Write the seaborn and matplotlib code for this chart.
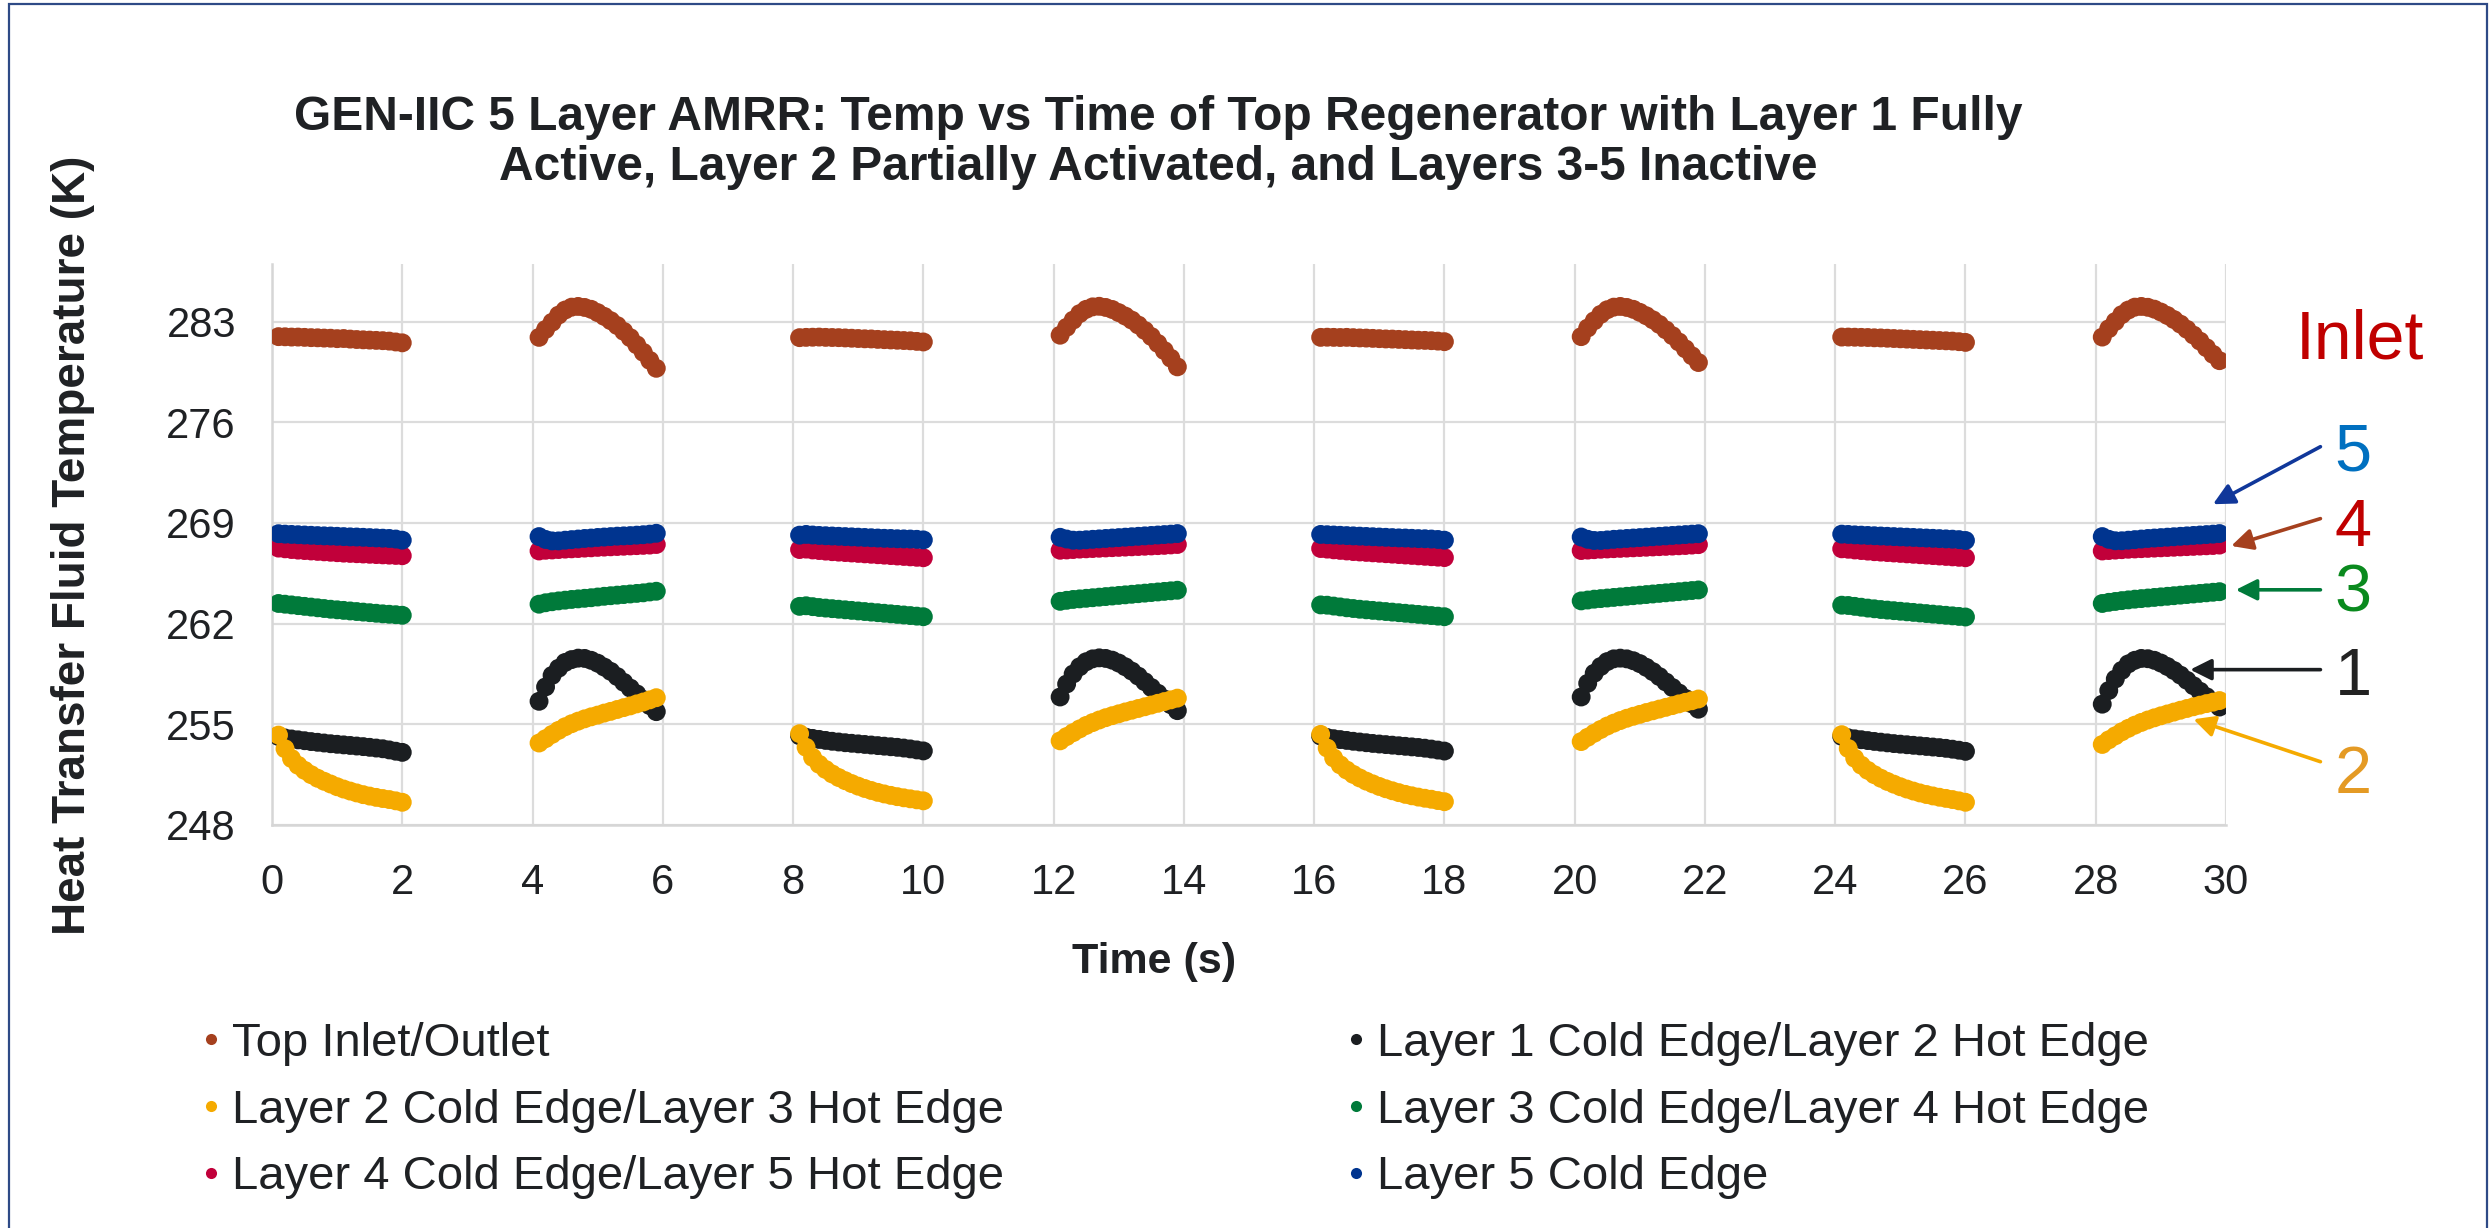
import matplotlib
matplotlib.use("Agg")
import matplotlib.pyplot as plt
import seaborn as sns
import pandas as pd
from matplotlib.lines import Line2D
from matplotlib.patches import Rectangle

# ---------------------------------------------------------------- data
# Each cycle: 2 s "A" half (flow one way), 2 s pause, 2 s "B" half, 2 s pause
CYCLE_STARTS = [0, 8, 16, 24]
HALF_B_OFFSET = 4
TIME_A = [0.1, 0.2, 0.3, 0.4, 0.5, 0.6, 0.7, 0.8, 0.9, 1.0,
          1.1, 1.2, 1.3, 1.4, 1.5, 1.6, 1.7, 1.8, 1.9, 2.0]
TIME_B = [0.1, 0.2, 0.3, 0.4, 0.5, 0.6, 0.7, 0.8, 0.9, 1.0,
          1.1, 1.2, 1.3, 1.4, 1.5, 1.6, 1.7, 1.8, 1.9]

LABELS = [
    "Top Inlet/Outlet",
    "Layer 1 Cold Edge/Layer 2 Hot Edge",
    "Layer 2 Cold Edge/Layer 3 Hot Edge",
    "Layer 3 Cold Edge/Layer 4 Hot Edge",
    "Layer 4 Cold Edge/Layer 5 Hot Edge",
    "Layer 5 Cold Edge",
]
COLORS = ["#A5401E", "#1B1E21", "#F5AA00", "#007A3A", "#C1003A", "#00348F"]

INLET_A = [
    [281.95, 281.94, 281.92, 281.92, 281.90, 281.88, 281.87, 281.85, 281.84, 281.81,
     281.82, 281.78, 281.75, 281.73, 281.71, 281.69, 281.67, 281.64, 281.58, 281.52],
    [281.88, 281.90, 281.91, 281.92, 281.90, 281.89, 281.88, 281.86, 281.84, 281.82,
     281.80, 281.79, 281.76, 281.74, 281.72, 281.70, 281.68, 281.66, 281.62, 281.58],
    [281.90, 281.91, 281.90, 281.89, 281.90, 281.88, 281.86, 281.85, 281.83, 281.81,
     281.79, 281.78, 281.76, 281.74, 281.72, 281.70, 281.69, 281.67, 281.64, 281.60],
    [281.92, 281.92, 281.91, 281.90, 281.89, 281.87, 281.86, 281.84, 281.82, 281.80,
     281.78, 281.76, 281.74, 281.72, 281.70, 281.68, 281.66, 281.64, 281.60, 281.55],
]
INLET_B = [
    [281.90, 282.45, 282.95, 283.45, 283.80, 284.00, 284.05, 283.98, 283.85, 283.62,
     283.36, 283.06, 282.72, 282.32, 281.88, 281.38, 280.86, 280.30, 279.75],
    [282.05, 282.60, 283.10, 283.55, 283.85, 284.02, 284.06, 283.98, 283.84, 283.62,
     283.38, 283.10, 282.76, 282.38, 281.96, 281.48, 280.98, 280.45, 279.85],
    [281.95, 282.55, 283.05, 283.50, 283.82, 284.00, 284.05, 283.98, 283.85, 283.64,
     283.40, 283.12, 282.80, 282.42, 282.02, 281.58, 281.10, 280.62, 280.15],
    [281.92, 282.50, 283.00, 283.48, 283.80, 284.00, 284.05, 283.99, 283.86, 283.66,
     283.42, 283.14, 282.82, 282.46, 282.06, 281.64, 281.18, 280.72, 280.28],
]

L1_A = [
    [254.15, 254.05, 253.98, 253.92, 253.86, 253.80, 253.75, 253.70, 253.65, 253.61,
     253.57, 253.53, 253.49, 253.45, 253.40, 253.35, 253.30, 253.22, 253.13, 253.05],
    [254.20, 254.10, 254.02, 253.95, 253.88, 253.82, 253.77, 253.72, 253.68, 253.64,
     253.60, 253.56, 253.52, 253.48, 253.44, 253.40, 253.35, 253.29, 253.22, 253.15],
    [254.18, 254.08, 254.00, 253.94, 253.88, 253.82, 253.77, 253.72, 253.67, 253.63,
     253.59, 253.55, 253.51, 253.47, 253.43, 253.39, 253.34, 253.28, 253.21, 253.14],
    [254.16, 254.06, 253.99, 253.93, 253.87, 253.81, 253.76, 253.71, 253.66, 253.62,
     253.58, 253.54, 253.50, 253.46, 253.42, 253.38, 253.33, 253.27, 253.20, 253.12],
]
L1_B = [
    [256.60, 257.60, 258.40, 258.90, 259.30, 259.50, 259.60, 259.58, 259.45, 259.25,
     258.98, 258.68, 258.32, 257.92, 257.52, 257.12, 256.72, 256.30, 255.88],
    [256.90, 257.80, 258.50, 259.00, 259.35, 259.55, 259.62, 259.58, 259.46, 259.26,
     259.00, 258.70, 258.35, 257.96, 257.56, 257.16, 256.76, 256.36, 255.95],
    [256.90, 257.85, 258.55, 259.02, 259.36, 259.55, 259.60, 259.55, 259.42, 259.22,
     258.96, 258.66, 258.32, 257.94, 257.56, 257.18, 256.80, 256.42, 256.05],
    [256.40, 257.35, 258.15, 258.75, 259.20, 259.45, 259.58, 259.56, 259.45, 259.26,
     259.02, 258.74, 258.42, 258.06, 257.68, 257.30, 256.92, 256.55, 256.20],
]

L2_A = [
    [254.25, 253.30, 252.62, 252.15, 251.80, 251.50, 251.25, 251.04, 250.85, 250.66,
     250.50, 250.36, 250.23, 250.11, 250.01, 249.92, 249.84, 249.77, 249.68, 249.58],
    [254.35, 253.40, 252.70, 252.22, 251.86, 251.55, 251.30, 251.08, 250.88, 250.70,
     250.54, 250.40, 250.27, 250.16, 250.06, 249.97, 249.89, 249.82, 249.75, 249.68],
    [254.30, 253.35, 252.66, 252.18, 251.82, 251.52, 251.27, 251.05, 250.86, 250.68,
     250.52, 250.38, 250.25, 250.13, 250.03, 249.94, 249.86, 249.79, 249.70, 249.62],
    [254.28, 253.32, 252.64, 252.16, 251.80, 251.50, 251.25, 251.03, 250.84, 250.66,
     250.50, 250.36, 250.23, 250.12, 250.02, 249.93, 249.85, 249.77, 249.68, 249.58],
]
L2_B = [
    [253.70, 254.00, 254.30, 254.58, 254.83, 255.04, 255.22, 255.38, 255.52, 255.64,
     255.78, 255.90, 256.03, 256.16, 256.28, 256.42, 256.55, 256.70, 256.85],
    [253.85, 254.15, 254.42, 254.68, 254.92, 255.12, 255.30, 255.46, 255.60, 255.73,
     255.86, 255.98, 256.10, 256.22, 256.34, 256.46, 256.58, 256.70, 256.82],
    [253.80, 254.10, 254.38, 254.64, 254.88, 255.08, 255.26, 255.42, 255.56, 255.69,
     255.82, 255.94, 256.06, 256.18, 256.30, 256.42, 256.53, 256.64, 256.76],
    [253.60, 253.92, 254.20, 254.48, 254.72, 254.94, 255.13, 255.30, 255.45, 255.59,
     255.72, 255.85, 255.98, 256.10, 256.22, 256.33, 256.44, 256.54, 256.65],
]

L3_A = [
    [263.40, 263.35, 263.30, 263.25, 263.20, 263.15, 263.10, 263.05, 263.00, 262.96,
     262.92, 262.88, 262.84, 262.80, 262.76, 262.72, 262.68, 262.65, 262.62, 262.58],
    [263.20, 263.24, 263.18, 263.12, 263.08, 263.04, 263.00, 262.96, 262.92, 262.88,
     262.84, 262.80, 262.76, 262.72, 262.68, 262.64, 262.60, 262.56, 262.52, 262.48],
    [263.30, 263.28, 263.22, 263.16, 263.10, 263.05, 263.00, 262.96, 262.92, 262.88,
     262.84, 262.80, 262.76, 262.72, 262.68, 262.64, 262.60, 262.56, 262.52, 262.48],
    [263.28, 263.26, 263.20, 263.14, 263.08, 263.03, 262.98, 262.94, 262.90, 262.86,
     262.82, 262.78, 262.74, 262.70, 262.66, 262.62, 262.58, 262.54, 262.50, 262.46],
]
L3_B = [
    [263.35, 263.45, 263.52, 263.58, 263.63, 263.68, 263.72, 263.76, 263.80, 263.85,
     263.90, 263.94, 263.98, 264.02, 264.06, 264.10, 264.14, 264.20, 264.25],
    [263.55, 263.62, 263.68, 263.72, 263.76, 263.80, 263.84, 263.88, 263.92, 263.96,
     264.00, 264.04, 264.08, 264.12, 264.16, 264.20, 264.24, 264.28, 264.32],
    [263.58, 263.64, 263.70, 263.74, 263.78, 263.82, 263.86, 263.90, 263.94, 263.98,
     264.02, 264.06, 264.10, 264.14, 264.18, 264.22, 264.26, 264.30, 264.34],
    [263.40, 263.48, 263.54, 263.60, 263.65, 263.70, 263.74, 263.78, 263.82, 263.86,
     263.90, 263.94, 263.98, 264.02, 264.06, 264.10, 264.14, 264.18, 264.22],
]

L4_A = [
    [267.25, 267.20, 267.15, 267.11, 267.08, 267.05, 267.02, 266.99, 266.96, 266.93,
     266.90, 266.88, 266.86, 266.84, 266.82, 266.80, 266.78, 266.76, 266.74, 266.72],
    [267.15, 267.18, 267.12, 267.08, 267.04, 267.00, 266.97, 266.94, 266.91, 266.88,
     266.85, 266.82, 266.79, 266.76, 266.73, 266.70, 266.67, 266.64, 266.61, 266.58],
    [267.22, 267.18, 267.13, 267.09, 267.05, 267.01, 266.98, 266.95, 266.92, 266.89,
     266.86, 266.83, 266.80, 266.77, 266.74, 266.71, 266.68, 266.65, 266.62, 266.59],
    [267.20, 267.17, 267.12, 267.08, 267.04, 267.00, 266.97, 266.94, 266.91, 266.88,
     266.85, 266.82, 266.79, 266.76, 266.73, 266.70, 266.67, 266.64, 266.61, 266.58],
]
L4_B = [
    [267.05, 267.10, 267.12, 267.15, 267.18, 267.20, 267.22, 267.25, 267.27, 267.30,
     267.32, 267.34, 267.36, 267.38, 267.40, 267.42, 267.44, 267.46, 267.50],
    [267.10, 267.12, 267.15, 267.18, 267.20, 267.22, 267.24, 267.26, 267.28, 267.30,
     267.32, 267.34, 267.36, 267.38, 267.40, 267.42, 267.44, 267.47, 267.50],
    [267.08, 267.11, 267.14, 267.17, 267.19, 267.21, 267.23, 267.25, 267.27, 267.29,
     267.31, 267.33, 267.35, 267.37, 267.39, 267.41, 267.43, 267.46, 267.49],
    [267.05, 267.08, 267.11, 267.14, 267.17, 267.19, 267.21, 267.23, 267.25, 267.27,
     267.29, 267.31, 267.33, 267.35, 267.37, 267.39, 267.41, 267.43, 267.46],
]

L5_A = [
    [268.25, 268.22, 268.20, 268.18, 268.16, 268.14, 268.12, 268.10, 268.09, 268.07,
     268.05, 268.03, 268.02, 268.00, 267.98, 267.96, 267.94, 267.92, 267.88, 267.80],
    [268.15, 268.20, 268.16, 268.13, 268.11, 268.09, 268.07, 268.05, 268.03, 268.01,
     267.99, 267.97, 267.95, 267.93, 267.92, 267.90, 267.89, 267.88, 267.86, 267.82],
    [268.20, 268.18, 268.16, 268.14, 268.12, 268.10, 268.08, 268.06, 268.04, 268.02,
     268.00, 267.98, 267.96, 267.95, 267.93, 267.91, 267.90, 267.88, 267.85, 267.80],
    [268.22, 268.20, 268.17, 268.15, 268.13, 268.11, 268.09, 268.07, 268.05, 268.03,
     268.01, 267.99, 267.97, 267.95, 267.93, 267.91, 267.89, 267.87, 267.84, 267.78],
]
L5_B = [
    [268.05, 267.85, 267.75, 267.75, 267.80, 267.84, 267.88, 267.92, 267.95, 267.99,
     268.02, 268.05, 268.08, 268.10, 268.12, 268.15, 268.18, 268.22, 268.28],
    [268.00, 267.88, 267.80, 267.80, 267.83, 267.86, 267.89, 267.92, 267.95, 267.98,
     268.01, 268.04, 268.07, 268.10, 268.13, 268.16, 268.19, 268.22, 268.26],
    [268.02, 267.86, 267.78, 267.78, 267.82, 267.86, 267.89, 267.92, 267.95, 267.98,
     268.01, 268.04, 268.07, 268.10, 268.13, 268.16, 268.19, 268.22, 268.25],
    [268.05, 267.86, 267.76, 267.76, 267.80, 267.84, 267.88, 267.92, 267.95, 267.98,
     268.01, 268.04, 268.07, 268.10, 268.13, 268.16, 268.19, 268.22, 268.26],
]

SERIES_A = [INLET_A, L1_A, L2_A, L3_A, L4_A, L5_A]
SERIES_B = [INLET_B, L1_B, L2_B, L3_B, L4_B, L5_B]

X_TICKS = list(range(0, 31, 2))
Y_TICKS = [248, 255, 262, 269, 276, 283]

TITLE_1 = "GEN-IIC 5 Layer AMRR: Temp vs Time of Top Regenerator with Layer 1 Fully"
TITLE_2 = "Active, Layer 2 Partially Activated, and Layers 3-5 Inactive"

# ---------------------------------------------------------------- long table
rows = []
for label, a_sets, b_sets in zip(LABELS, SERIES_A, SERIES_B):
    for c, start in enumerate(CYCLE_STARTS):
        for t, v in zip(TIME_A, a_sets[c]):
            rows.append((label, start + t, v))
        for t, v in zip(TIME_B, b_sets[c]):
            rows.append((label, start + HALF_B_OFFSET + t, v))
df = pd.DataFrame(rows, columns=["Series", "Time", "Temp"])

# ---------------------------------------------------------------- figure
sns.set_theme(style="white")
plt.rcParams["font.family"] = ["Liberation Sans", "DejaVu Sans"]
TXT = "#1F2124"

W, H = 2490, 1228
fig = plt.figure(figsize=(W / 100, H / 100), dpi=100)
ax = fig.add_axes([272 / W, 1 - 825 / H, (2226 - 272) / W, (825 - 264) / H])

sns.scatterplot(data=df, x="Time", y="Temp", hue="Series", hue_order=LABELS,
                palette=dict(zip(LABELS, COLORS)), s=185, linewidth=0,
                legend=False, ax=ax, zorder=3)

ax.set_xlim(0, 30)
ax.set_ylim(248, 287)
ax.set_xticks(X_TICKS)
ax.set_yticks(Y_TICKS)
ax.grid(True, color="#DCDCDC", lw=1.6)
ax.set_axisbelow(True)
for side in ["top", "right"]:
    ax.spines[side].set_visible(False)
for side in ["left", "bottom"]:
    ax.spines[side].set_color("#D6D6D6")
    ax.spines[side].set_linewidth(1.8)
ax.tick_params(axis="both", length=0, labelsize=30, labelcolor=TXT)
ax.tick_params(axis="y", pad=26)
ax.tick_params(axis="x", pad=27)
ax.set_xlabel("")
ax.set_ylabel("")

# titles and axis titles
fig.text(1158 / W, 1 - 118 / H, TITLE_1, ha="center", va="center",
         fontsize=34.5, fontweight="bold", color=TXT)
fig.text(1158 / W, 1 - 167 / H, TITLE_2, ha="center", va="center",
         fontsize=34.5, fontweight="bold", color=TXT)
fig.text(1154 / W, 1 - 962 / H, "Time (s)", ha="center", va="center",
         fontsize=31, fontweight="bold", color=TXT)
fig.text(73 / W, 1 - 545 / H, "Heat Transfer Fluid Temperature (K)",
         rotation=90, ha="center", va="center",
         fontsize=33, fontweight="bold", color=TXT)

# callouts on the right
CALLOUTS = [
    # text, text colour, text (x, y), arrow colour, tail, head
    ("5", "#0070C0", (31.95, 273.8), "#10379A", (31.45, 274.3), (29.80, 270.3)),
    ("4", "#C00000", (31.95, 268.6), "#A5401E", (31.45, 269.3), (30.08, 267.4)),
    ("3", "#0A8A1E", (31.95, 264.0), "#007A3A", (31.45, 264.35), (30.15, 264.35)),
    ("1", "#222222", (31.95, 258.2), "#1B1E21", (31.45, 258.8), (29.45, 258.8)),
    ("2", "#E49A24", (31.95, 251.4), "#F5AA00", (31.45, 252.4), (29.50, 255.35)),
]
for txt, tcol, tpos, acol, tail, head in CALLOUTS:
    ax.annotate("", xy=head, xytext=tail, annotation_clip=False,
                arrowprops=dict(arrowstyle="-|>", color=acol, lw=2.6,
                                mutation_scale=32, shrinkA=0, shrinkB=0))
    ax.text(tpos[0], tpos[1], txt, color=tcol, fontsize=48,
            ha="center", va="center", clip_on=False)
ax.text(32.05, 281.7, "Inlet", color="#C00000", fontsize=49,
        ha="center", va="center", clip_on=False)

# legend, two columns filled column-wise
order = [0, 2, 4, 1, 3, 5]
handles = [Line2D([0], [0], marker="o", linestyle="", markersize=8,
                  markerfacecolor=COLORS[i], markeredgecolor="none")
           for i in order]
fig.legend(handles, [LABELS[i] for i in order], ncol=2, loc="upper left",
           bbox_to_anchor=(202 / W, 1 - 1022 / H), frameon=False,
           fontsize=34, labelcolor=TXT, handlelength=0.38, handletextpad=0.25,
           columnspacing=7.27, labelspacing=0.48, borderpad=0, borderaxespad=0)

# chart-area border
fig.patches.append(Rectangle((9 / W, -0.05), (2487 - 9) / W, (1228 - 4) / H + 0.05,
                             transform=fig.transFigure, fill=False,
                             edgecolor="#2E4A86", linewidth=1.6))

fig.savefig("out.png", dpi=100)
